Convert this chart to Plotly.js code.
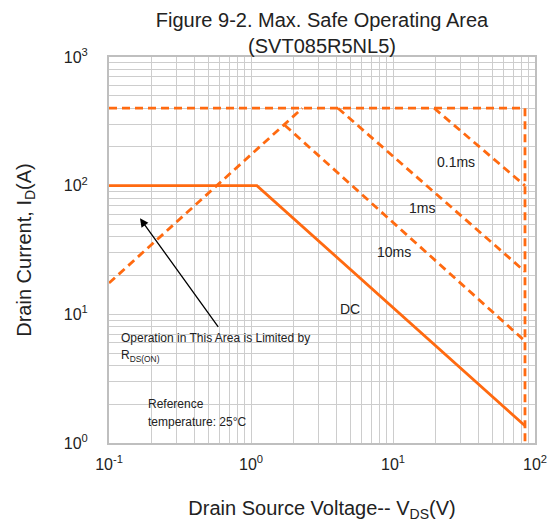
<!DOCTYPE html>
<html>
<head>
<meta charset="utf-8">
<script src="https://cdn.plot.ly/plotly-3.0.1.min.js"></script>
<style>
  html, body { margin: 0; padding: 0; background: #ffffff; }
  #soa { width: 553px; height: 524px; }
</style>
</head>
<body>
<div id="soa"></div>
<script>
// Safe operating area boundaries, drain-source voltage (V) vs drain current (A)
const rdsLimitV = [0.1, 2.3];
const rdsLimitI = [17.5, 400];
const pulseCeilV = [0.1, 85];
const pulseCeilI = [400, 400];
const breakdownV = [85, 85];
const breakdownI = [400, 1];
const pulse01msV = [19.5, 85];
const pulse01msI = [400, 100];
const pulse1msV = [4.1, 85];
const pulse1msI = [400, 21.5];
const pulse10msV = [1.73, 85];
const pulse10msI = [295, 6.2];
const dcV = [0.1, 1.1, 85];
const dcI = [100, 100, 1.36];

// Axis decades and their labels
const xTickVals = [0.1, 1, 10, 100];
const xTickText = ['10<sup>-1</sup>', '10<sup>0</sup>', '10<sup>1</sup>', '10<sup>2</sup>'];
const yTickVals = [1, 10, 100, 1000];
const yTickText = ['10<sup>0</sup>', '10<sup>1</sup>', '10<sup>2</sup>', '10<sup>3</sup>'];

const ORANGE = '#ff6a10';
const GRID = '#cdcdcd';
const FONT = 'Liberation Sans, Arial, Helvetica, sans-serif';

// 2..9 within each decade, for the minor grid
function minorGrid(lo, hi) {
  const out = [];
  for (let d = lo; d < hi; d++) {
    for (let m = 2; m <= 9; m++) out.push(m * Math.pow(10, d));
  }
  return out;
}

function dashed(v, i) {
  return { x: v, y: i, mode: 'lines', showlegend: false, hoverinfo: 'skip',
           line: { color: ORANGE, width: 2.8, dash: '8px,5px' } };
}

const traces = [
  dashed(pulseCeilV, pulseCeilI),
  dashed(breakdownV, breakdownI),
  dashed(rdsLimitV, rdsLimitI),
  dashed(pulse01msV, pulse01msI),
  dashed(pulse1msV, pulse1msI),
  dashed(pulse10msV, pulse10msI),
  { x: dcV, y: dcI, mode: 'lines', showlegend: false, hoverinfo: 'skip',
    line: { color: ORANGE, width: 2.8 } }
];

// plot area in pixels
const L = 109, R = 535, T = 57, B = 443;
const px = x => (x - L) / (R - L);
const py = y => (B - y) / (B - T);

function whiteBox(x0, x1, y0, y1) {
  return { type: 'rect', xref: 'paper', yref: 'paper', layer: 'between',
           x0: px(x0), x1: px(x1), y0: py(y1), y1: py(y0),
           fillcolor: '#ffffff', line: { width: 0 } };
}

function label(text, x, y, size, anchor) {
  return { text: text, xref: 'paper', yref: 'paper', x: px(x), y: py(y),
           xanchor: anchor || 'center', yanchor: 'middle', showarrow: false,
           font: { family: FONT, size: size, color: '#222222' } };
}

const layout = {
  width: 553, height: 524,
  margin: { l: L, r: 553 - R, t: T, b: 524 - B },
  paper_bgcolor: '#ffffff', plot_bgcolor: '#ffffff',
  font: { family: FONT, color: '#222222' },
  title: {
    text: 'Figure 9-2. Max. Safe Operating Area<br>(SVT085R5NL5)',
    font: { family: FONT, size: 20, color: '#222222' },
    x: 0.5, xref: 'paper', xanchor: 'center',
    y: 1 - 27 / 524, yref: 'container', yanchor: 'top'
  },
  xaxis: {
    type: 'log', range: [-1, 2],
    tickmode: 'array', tickvals: xTickVals, ticktext: xTickText,
    tickfont: { family: FONT, size: 16, color: '#222222' },
    ticks: '', ticklabelstandoff: 6,
    showgrid: true, gridcolor: GRID, gridwidth: 1,
    minor: { tickmode: 'array', tickvals: minorGrid(-1, 2), showgrid: true, gridcolor: GRID, gridwidth: 1 },
    showline: true, linecolor: '#bfbfbf', linewidth: 2, mirror: true,
    zeroline: false,
    title: { text: 'Drain Source Voltage-- V<sub>DS</sub>(V)',
             font: { family: FONT, size: 20, color: '#222222' }, standoff: 29 }
  },
  yaxis: {
    type: 'log', range: [0, 3],
    tickmode: 'array', tickvals: yTickVals, ticktext: yTickText,
    tickfont: { family: FONT, size: 16, color: '#222222' },
    ticks: '', ticklabelstandoff: 16,
    showgrid: true, gridcolor: GRID, gridwidth: 1,
    minor: { tickmode: 'array', tickvals: minorGrid(0, 3), showgrid: true, gridcolor: GRID, gridwidth: 1 },
    showline: true, linecolor: '#bfbfbf', linewidth: 2, mirror: true,
    zeroline: false,
    title: { text: 'Drain Current, I<sub>D</sub>(A)',
             font: { family: FONT, size: 20, color: '#222222' }, standoff: 27 }
  },
  shapes: [
    whiteBox(435, 478, 153, 170),
    whiteBox(388, 458, 198, 218),
    whiteBox(369, 420, 243, 262),
    whiteBox(329, 370, 300, 319),
    whiteBox(111, 320, 330, 358),
    whiteBox(137, 275, 397, 427)
  ],
  annotations: [
    label('0.1ms', 456, 162, 14),
    label('1ms', 422, 208, 14),
    label('10ms', 393.5, 252, 14),
    label('DC', 349.5, 309, 14),
    label('Operation in This Area is Limited by', 119, 338, 12, 'left'),
    label('R<sub>DS(ON)</sub>', 119, 356, 12, 'left'),
    label('Reference', 146, 404, 12, 'left'),
    label('temperature: 25°C', 146, 422, 12, 'left'),
    { text: '', xref: 'paper', yref: 'paper', x: px(140), y: py(218.3),
      showarrow: true, arrowhead: 2, arrowsize: 1.3, arrowwidth: 1.3,
      arrowcolor: '#000000', ax: 79.3, ay: 110, standoff: 0 }
  ]
};

Plotly.newPlot('soa', traces, layout, { displayModeBar: false, staticPlot: true });
</script>
</body>
</html>
